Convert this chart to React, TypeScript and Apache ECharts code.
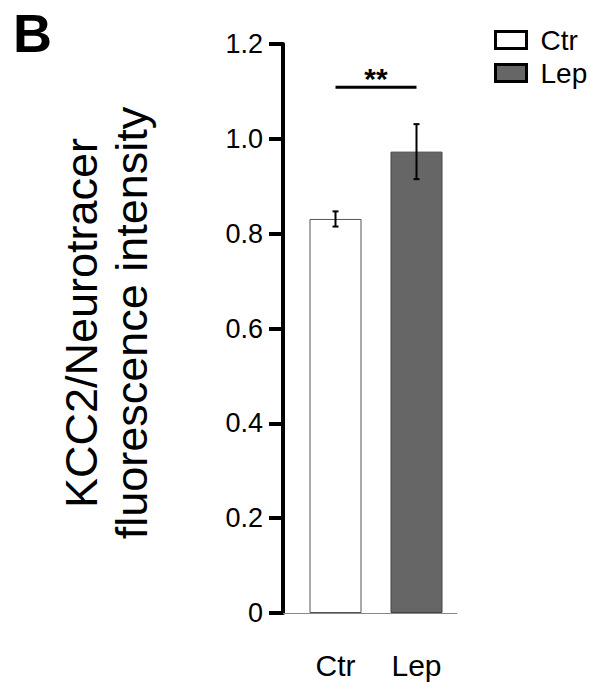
import React, { useEffect, useRef } from "react";
import * as echarts from "echarts";

const categories = ["Ctr", "Lep"];
const means = [0.831, 0.973];
const errors = [0.016, 0.058];
const yTicks = [0, 0.2, 0.4, 0.6, 0.8, 1.0, 1.2];
const sigLevel = 1.109;
const sigText = "**";
const yTitle = ["KCC2/Neurotracer", "fluorescence intensity"];
const panelLabel = "B";

const FONT = "'Liberation Sans', Arial, Helvetica, sans-serif";

export default function App() {
  const ref = useRef<HTMLDivElement>(null);
  useEffect(() => {
    document.body.style.margin = "0";
    const chart = echarts.init(ref.current!, null, { renderer: "svg" });
    const option: any = {
      animation: false,
      backgroundColor: "#fff",
      textStyle: { fontFamily: FONT },
      grid: [
        { left: 295, right: 134, top: 44, bottom: 70 },
        { left: 283, right: 134, top: 44, bottom: 70 },
      ],
      xAxis: [
        {
          type: "category",
          gridIndex: 0,
          data: categories,
          axisLine: { show: false },
          axisTick: { show: false },
          axisLabel: { fontSize: 30, color: "#000", margin: 37, fontFamily: FONT },
        },
        {
          type: "value",
          gridIndex: 1,
          min: 0,
          max: 1,
          axisLine: { show: true, lineStyle: { color: "#888", width: 1 } },
          axisTick: { show: false },
          axisLabel: { show: false },
          splitLine: { show: false },
        },
      ],
      yAxis: [
        {
          type: "value",
          gridIndex: 0,
          min: yTicks[0],
          max: yTicks[yTicks.length - 1],
          interval: 0.2,
          offset: 12,
          axisLine: { show: true, lineStyle: { color: "#000", width: 4 } },
          axisTick: { show: true, length: 14, lineStyle: { color: "#000", width: 4 } },
          axisLabel: {
            fontSize: 27,
            color: "#000",
            margin: 20,
            fontFamily: FONT,
            formatter: (v: number) => (v === 0 ? "0" : v.toFixed(1)),
          },
          splitLine: { show: false },
        },
        { type: "value", gridIndex: 1, min: 0, max: 1, show: false },
      ],
      legend: {
        orient: "vertical",
        left: 494,
        top: 25,
        padding: 0,
        icon: "rect",
        itemWidth: 31,
        itemHeight: 17,
        itemGap: 3,
        textStyle: { fontSize: 28, color: "#000", fontFamily: FONT, lineHeight: 30, padding: [0, 0, 0, 9] },
        data: [
          { name: categories[0], itemStyle: { color: "#fff", borderColor: "#000", borderWidth: 3 } },
          { name: categories[1], itemStyle: { color: "#666", borderColor: "#000", borderWidth: 3 } },
        ],
      },
      graphic: [
        {
          type: "text",
          x: 13,
          y: 33,
          style: { text: panelLabel, font: `bold 54px ${FONT}`, fill: "#000", align: "left", verticalAlign: "middle" },
        },
        {
          type: "text",
          x: 106,
          y: 323,
          rotation: Math.PI / 2,
          style: {
            text: yTitle.join("\n"),
            font: `45px ${FONT}`,
            align: "center",
            verticalAlign: "middle",
            lineHeight: 50,
            fill: "#000",
          },
        },
      ],
      series: [
        {
          name: categories[0],
          type: "bar",
          xAxisIndex: 0,
          yAxisIndex: 0,
          barWidth: 52,
          barGap: "-100%",
          data: [means[0], "-"],
          itemStyle: { color: "#fff", borderColor: "#555", borderWidth: 1 },
        },
        {
          name: categories[1],
          type: "bar",
          xAxisIndex: 0,
          yAxisIndex: 0,
          barWidth: 52,
          barGap: "-100%",
          data: ["-", means[1]],
          itemStyle: { color: "#666", borderColor: "#444", borderWidth: 1 },
        },
        {
          type: "custom",
          xAxisIndex: 0,
          yAxisIndex: 0,
          data: categories.map((c, i) => [i, means[i], errors[i]]),
          renderItem: (params: any, api: any) => {
            const x = api.value(0);
            const m = api.value(1);
            const e = api.value(2);
            const top = api.coord([x, m + e]);
            const bot = api.coord([x, m - e]);
            const cw = 3;
            const st = { stroke: "#000", lineWidth: 2 };
            return {
              type: "group",
              children: [
                { type: "line", shape: { x1: top[0], y1: top[1], x2: bot[0], y2: bot[1] }, style: st },
                { type: "line", shape: { x1: top[0] - cw, y1: top[1], x2: top[0] + cw, y2: top[1] }, style: st },
                { type: "line", shape: { x1: bot[0] - cw, y1: bot[1], x2: bot[0] + cw, y2: bot[1] }, style: st },
              ],
            };
          },
          z: 5,
        },
        {
          type: "custom",
          xAxisIndex: 0,
          yAxisIndex: 0,
          data: [[0, 1, sigLevel]],
          renderItem: (params: any, api: any) => {
            const a = api.coord([api.value(0), api.value(2)]);
            const b = api.coord([api.value(1), api.value(2)]);
            return {
              type: "group",
              children: [
                { type: "line", shape: { x1: a[0], y1: a[1], x2: b[0], y2: b[1] }, style: { stroke: "#000", lineWidth: 3 } },
                {
                  type: "text",
                  x: (a[0] + b[0]) / 2,
                  y: a[1] - 9,
                  style: {
                    text: sigText,
                    font: `bold 30px ${FONT}`,
                    align: "center",
                    verticalAlign: "middle",
                    fill: "#000",
                  },
                },
              ],
            };
          },
          z: 5,
        },
      ],
    };
    chart.setOption(option);
    return () => chart.dispose();
  }, []);
  return <div ref={ref} style={{ width: 591, height: 683 }} />;
}
